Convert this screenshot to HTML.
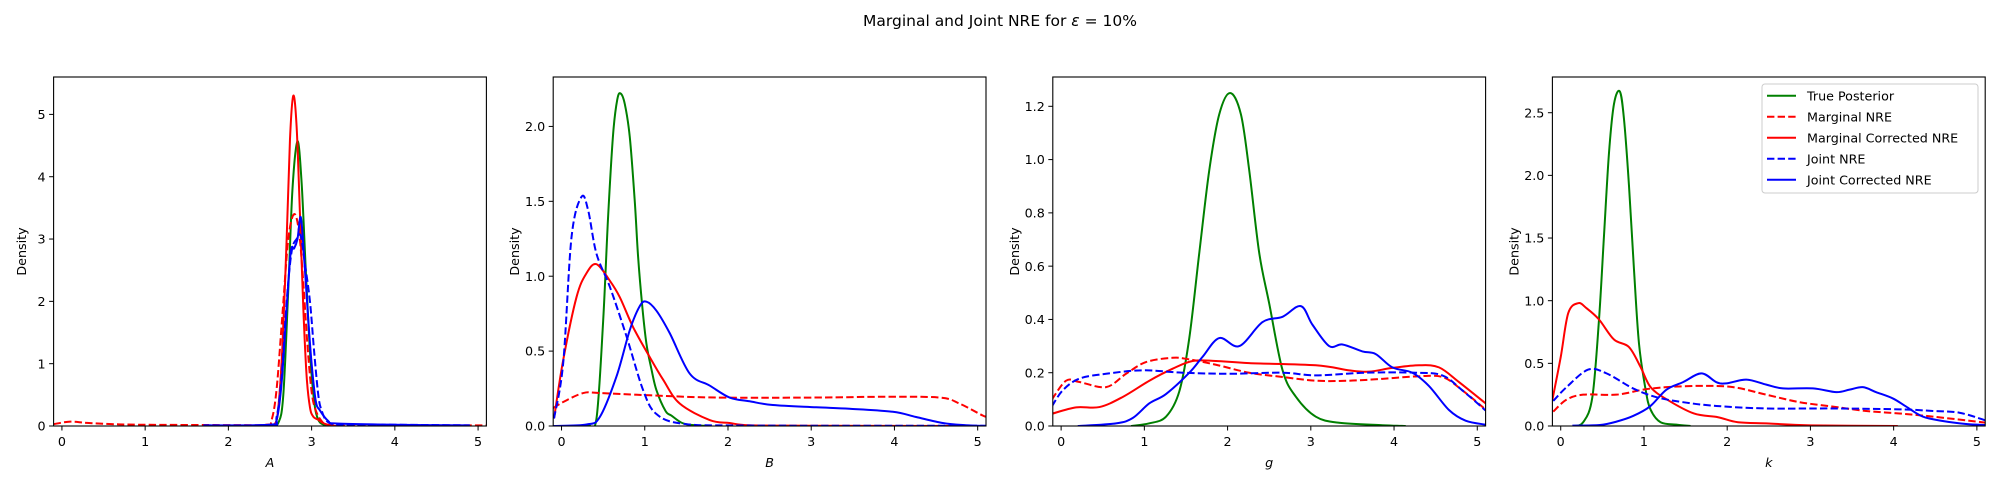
<!DOCTYPE html>
<html><head><meta charset="utf-8"><style>
html,body{margin:0;padding:0;background:#fff;}
svg{display:block;font-family:"DejaVu Sans","Liberation Sans",sans-serif;}
</style></head><body>
<svg id="fig" width="2000" height="500" viewBox="0 0 2000 500" xmlns="http://www.w3.org/2000/svg">
<text x="1000" y="26" text-anchor="middle" font-size="15.5" fill="#000">Marginal and Joint NRE for <tspan font-style="italic">ε</tspan> =  10%</text>
</svg>
<script>
// ---- data ----
const panelNames = ["A","B","g","k"];
const yMaxes = [5.6, 2.33, 1.31, 2.785];
const yTicks = [[0,1,2,3,4,5],[0,0.5,1,1.5,2],[0,0.2,0.4,0.6,0.8,1,1.2],[0,0.5,1,1.5,2,2.5]];
const yTickLabels = [["0","1","2","3","4","5"],["0.0","0.5","1.0","1.5","2.0"],["0.0","0.2","0.4","0.6","0.8","1.0","1.2"],["0.0","0.5","1.0","1.5","2.0","2.5"]];
const xTicks = [0,1,2,3,4,5];
const seriesNames = ["True Posterior","Marginal NRE","Marginal Corrected NRE","Joint NRE","Joint Corrected NRE"];
const seriesColors = ["green","red","red","blue","blue"];
const seriesDashed = [false,true,false,true,false];

// Panel A
const A_true = [[2.5,0],[2.6,0.05],[2.66,0.5],[2.72,2.2],[2.77,3.8],[2.83,4.57],[2.88,3.9],[2.93,2.5],[2.98,1.2],[3.03,0.4],[3.08,0.1],[3.15,0.02],[3.25,0]];
const A_marg = [[-0.1,0.03],[0.1,0.07],[0.3,0.05],[0.6,0.03],[1,0.02],[2,0.015],[2.45,0.02],[2.52,0.1],[2.58,0.6],[2.65,1.8],[2.72,3.0],[2.79,3.4],[2.85,3.1],[2.9,2.3],[2.95,1.3],[3.0,0.55],[3.05,0.25],[3.12,0.08],[3.2,0.02],[3.5,0.01],[4,0.01],[5.1,0.01]];
const A_margCorr = [[2.4,0],[2.55,0.02],[2.6,0.3],[2.65,1.3],[2.7,3.0],[2.74,4.6],[2.78,5.3],[2.82,4.8],[2.86,3.4],[2.9,1.9],[2.94,0.8],[2.98,0.3],[3.02,0.15],[3.08,0.1],[3.15,0.04],[3.25,0.005],[3.4,0]];
const A_joint = [[1.7,0.01],[2.5,0.02],[2.58,0.15],[2.64,0.8],[2.7,2.0],[2.76,2.8],[2.82,3.0],[2.87,3.05],[2.92,2.6],[2.98,2.0],[3.03,1.2],[3.08,0.5],[3.12,0.25],[3.2,0.06],[3.4,0.02],[4,0.02],[4.9,0.01]];
const A_jointCorr = [[1.7,0.01],[2.5,0.02],[2.58,0.1],[2.64,0.7],[2.7,1.9],[2.75,2.8],[2.79,2.85],[2.83,3.0],[2.87,3.35],[2.91,2.7],[2.96,1.7],[3.0,1.0],[3.05,0.4],[3.1,0.25],[3.2,0.08],[3.3,0.04],[4,0.02],[4.9,0.01]];
// Panel B
const B_true = [[0.2,0],[0.32,0.005],[0.42,0.05],[0.5,0.7],[0.56,1.4],[0.62,1.95],[0.67,2.18],[0.71,2.22],[0.76,2.15],[0.82,1.93],[0.88,1.5],[0.92,1.13],[0.97,0.8],[1.02,0.55],[1.08,0.38],[1.14,0.24],[1.25,0.1],[1.32,0.07],[1.45,0.02],[1.6,0.005],[1.8,0]];
const B_marg = [[-0.1,0.12],[0.02,0.16],[0.26,0.22],[0.46,0.22],[1.06,0.205],[1.86,0.19],[3.06,0.19],[3.86,0.195],[4.54,0.19],[4.78,0.15],[5.06,0.07],[5.1,0.065]];
const B_margCorr = [[-0.09,0.05],[0.02,0.44],[0.18,0.86],[0.3,1.02],[0.42,1.08],[0.58,0.97],[0.7,0.86],[0.86,0.66],[1.06,0.46],[1.22,0.31],[1.42,0.15],[1.78,0.04],[2.02,0.02],[2.26,0.005],[3,0.002],[5.1,0]];
const B_joint = [[-0.09,0.05],[0.02,0.42],[0.12,1.26],[0.24,1.53],[0.32,1.44],[0.42,1.15],[0.58,0.93],[0.78,0.6],[0.98,0.24],[1.14,0.08],[1.46,0.015],[2.26,0.003],[5.1,0.002]];
const B_jointCorr = [[-0.1,0],[0.3,0.01],[0.46,0.06],[0.66,0.33],[0.82,0.64],[0.94,0.8],[1.02,0.83],[1.14,0.77],[1.3,0.62],[1.54,0.35],[1.78,0.27],[2.02,0.19],[2.26,0.165],[2.54,0.14],[3.06,0.125],[3.46,0.115],[3.98,0.095],[4.26,0.06],[4.58,0.02],[4.86,0.005],[5.1,0]];
// Panel g
const G_true = [[0.84,0],[1.06,0.01],[1.26,0.035],[1.42,0.13],[1.54,0.33],[1.66,0.65],[1.78,0.96],[1.9,1.17],[2.03,1.25],[2.16,1.17],[2.26,0.96],[2.38,0.65],[2.5,0.46],[2.66,0.21],[2.82,0.11],[3.06,0.035],[3.34,0.012],[3.86,0.003],[4.14,0]];
const G_marg = [[-0.11,0.1],[0.06,0.17],[0.22,0.165],[0.54,0.146],[0.78,0.196],[1.02,0.24],[1.34,0.256],[1.54,0.25],[1.86,0.23],[2.26,0.2],[2.66,0.184],[3.06,0.17],[3.46,0.17],[3.86,0.177],[4.26,0.186],[4.58,0.184],[4.82,0.134],[5.1,0.062]];
const G_margCorr = [[-0.11,0.046],[0.18,0.07],[0.46,0.071],[0.74,0.109],[1.06,0.17],[1.34,0.215],[1.58,0.244],[1.86,0.244],[2.26,0.236],[3.06,0.228],[3.46,0.209],[3.7,0.204],[3.98,0.218],[4.3,0.228],[4.54,0.22],[4.78,0.165],[5.1,0.085]];
const G_joint = [[-0.11,0.074],[0.02,0.134],[0.22,0.178],[0.54,0.196],[0.98,0.209],[1.46,0.2],[2.02,0.196],[2.66,0.2],[3.06,0.19],[3.66,0.2],[4.26,0.2],[4.58,0.19],[4.82,0.134],[5.1,0.058]];
const G_jointCorr = [[0.2,0],[0.66,0.01],[0.86,0.03],[1.06,0.085],[1.26,0.12],[1.54,0.2],[1.7,0.26],[1.9,0.33],[2.14,0.3],[2.42,0.39],[2.66,0.41],[2.88,0.45],[3.02,0.38],[3.22,0.3],[3.38,0.306],[3.62,0.28],[3.78,0.27],[3.98,0.22],[4.22,0.2],[4.42,0.15],[4.66,0.06],[4.86,0.02],[5.1,0.005]];
// Panel k
const K_true = [[0.15,0],[0.27,0.03],[0.38,0.23],[0.46,0.85],[0.52,1.52],[0.58,2.18],[0.64,2.57],[0.71,2.67],[0.76,2.45],[0.82,1.92],[0.88,1.25],[0.94,0.66],[1.02,0.29],[1.08,0.13],[1.2,0.03],[1.4,0.01],[1.56,0]];
const K_marg = [[-0.09,0.115],[0.07,0.21],[0.27,0.25],[0.67,0.25],[0.99,0.29],[1.27,0.31],[1.67,0.32],[2.07,0.31],[2.47,0.25],[2.87,0.19],[3.27,0.155],[3.67,0.12],[4.07,0.1],[4.47,0.075],[5.1,0.027]];
const K_margCorr = [[-0.1,0.21],[0,0.55],[0.09,0.9],[0.21,0.98],[0.31,0.94],[0.46,0.85],[0.64,0.69],[0.82,0.63],[0.96,0.47],[1.08,0.31],[1.28,0.21],[1.6,0.1],[1.89,0.07],[2.13,0.03],[2.5,0.02],[3,0.005],[4.05,0]];
const K_joint = [[-0.09,0.2],[0.07,0.31],[0.33,0.45],[0.55,0.42],[0.87,0.3],[1.15,0.23],[1.47,0.19],[1.87,0.16],[2.47,0.14],[3.27,0.14],[4.07,0.133],[4.47,0.12],[4.79,0.106],[5.1,0.046]];
const K_jointCorr = [[0.14,0.003],[0.47,0.008],[0.67,0.035],[0.87,0.08],[1.07,0.155],[1.27,0.29],[1.47,0.35],[1.69,0.42],[1.87,0.35],[1.99,0.34],[2.23,0.37],[2.47,0.33],[2.67,0.3],[3.03,0.3],[3.31,0.27],[3.47,0.29],[3.63,0.31],[3.79,0.27],[3.99,0.22],[4.15,0.155],[4.35,0.075],[4.59,0.04],[4.87,0.016],[5.1,0.008]];

const panelSeries = [
  [A_true,A_marg,A_margCorr,A_joint,A_jointCorr],
  [B_true,B_marg,B_margCorr,B_joint,B_jointCorr],
  [G_true,G_marg,G_margCorr,G_joint,G_jointCorr],
  [K_true,K_marg,K_margCorr,K_joint,K_jointCorr]
];

// ---- drawing ----
const NS = "http://www.w3.org/2000/svg";
const svg = document.getElementById("fig");
const X0 = 53.6, PW = 432.8, STEP = 499.6, TOP = 77, BOT = 426;
const XMIN = -0.1, XMAX = 5.1;
const FS = 12.7;
function mk(tag, attrs, parent){ const e=document.createElementNS(NS,tag); for(const k in attrs) e.setAttribute(k,attrs[k]); (parent||svg).appendChild(e); return e; }
function smoothPath(pts){
  let d = "M"+pts[0][0].toFixed(2)+","+pts[0][1].toFixed(2);
  for(let i=0;i<pts.length-1;i++){
    const p0=pts[Math.max(0,i-1)], p1=pts[i], p2=pts[i+1], p3=pts[Math.min(pts.length-1,i+2)];
    const c1=[p1[0]+(p2[0]-p0[0])/6, p1[1]+(p2[1]-p0[1])/6];
    const c2=[p2[0]-(p3[0]-p1[0])/6, p2[1]-(p3[1]-p1[1])/6];
    d+=" C"+c1[0].toFixed(2)+","+c1[1].toFixed(2)+" "+c2[0].toFixed(2)+","+c2[1].toFixed(2)+" "+p2[0].toFixed(2)+","+p2[1].toFixed(2);
  }
  return d;
}
const defs = mk("defs",{});
for(let p=0;p<4;p++){
  const left = X0 + p*STEP;
  const xs = v => left + (v-XMIN)/(XMAX-XMIN)*PW;
  const ys = v => BOT - v/yMaxes[p]*(BOT-TOP);
  const g = mk("g",{});
  
  
  const cp = mk("clipPath",{id:"clip"+p},defs);
  mk("rect",{x:left,y:TOP,width:PW,height:BOT-TOP},cp);
  const lines = mk("g",{"clip-path":"url(#clip"+p+")"},g);
  panelSeries[p].forEach((s,i)=>{
    const pts = s.map(q=>[xs(q[0]), ys(q[1])]);
    const path = mk("path",{d:smoothPath(pts),fill:"none",stroke:seriesColors[i],"stroke-width":2,"stroke-linejoin":"round"},lines);
    if(seriesDashed[i]) path.setAttribute("stroke-dasharray","7.4,3.2");
    
    
  });
  const frame = mk("rect",{x:left,y:TOP,width:PW,height:BOT-TOP,fill:"none",stroke:"#000","stroke-width":1.1},g);
  
  
  xTicks.forEach(t=>{
    const x = xs(t);
    mk("line",{x1:x,x2:x,y1:BOT,y2:BOT+4.5,stroke:"#000","stroke-width":1},g);
    const tx = mk("text",{x:x,y:BOT+20,"text-anchor":"middle","font-size":FS,fill:"#000"},g);
    tx.textContent = String(t);
    
    
  });
  yTicks[p].forEach((t,j)=>{
    const y = ys(t);
    mk("line",{x1:left-4.5,x2:left,y1:y,y2:y,stroke:"#000","stroke-width":1},g);
    const tx = mk("text",{x:left-8,y:y+4.6,"text-anchor":"end","font-size":FS,fill:"#000"},g);
    tx.textContent = yTickLabels[p][j];
    
    
  });
  const xl = mk("text",{x:left+PW/2,y:467,"text-anchor":"middle","font-size":FS,"font-style":"italic",fill:"#000"},g);
  xl.textContent = panelNames[p];
  
  
  const ylx = p===0 ? 26 : left-34;
  const yl = mk("text",{x:ylx,y:(TOP+BOT)/2,"text-anchor":"middle","font-size":FS,fill:"#000",transform:"rotate(-90 "+ylx+" "+((TOP+BOT)/2)+")"},g);
  yl.textContent = "Density";
  
  
}
// legend
const lg = mk("g",{});


mk("rect",{x:1762,y:84,width:216,height:109,rx:3,fill:"#fff","fill-opacity":0.8,stroke:"#ccc","stroke-width":1},lg);
seriesNames.forEach((n,i)=>{
  const y = 95.7 + i*21;
  const e = mk("g",{},lg);
  
  
  const l = mk("line",{x1:1767,x2:1796,y1:y,y2:y,stroke:seriesColors[i],"stroke-width":2},e);
  if(seriesDashed[i]) l.setAttribute("stroke-dasharray","7.4,3.2");
  const t = mk("text",{x:1807,y:y+4.6,"font-size":FS,fill:"#000"},e);
  t.textContent = n;
});
</script>
</body></html>
